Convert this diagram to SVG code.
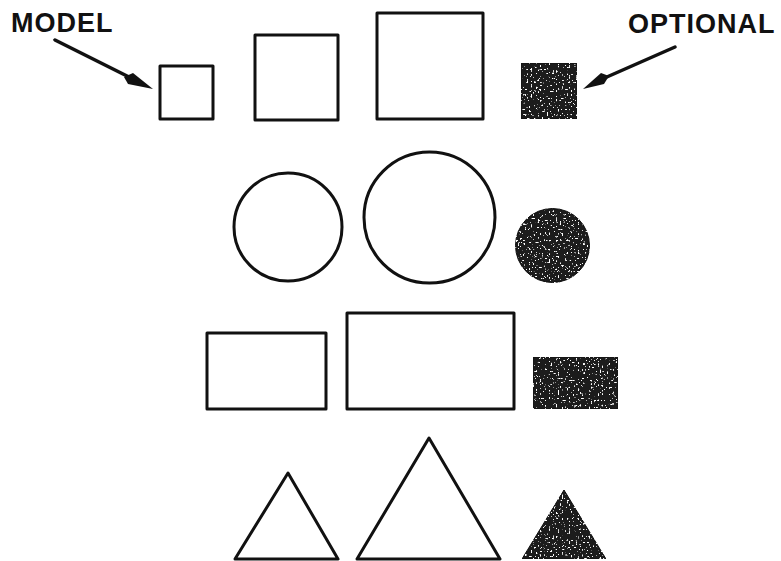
<svg xmlns="http://www.w3.org/2000/svg" width="781" height="561" viewBox="0 0 781 561">
<style>
.o{fill:#fff;stroke:#111;stroke-width:3;stroke-linejoin:round}
.f{fill:#1c1c1c;stroke:#111;stroke-width:1;filter:url(#speckle)}
.lbl{font-family:"Liberation Sans",Arial,sans-serif;font-weight:bold;font-size:27px;letter-spacing:1px;fill:#111}
.arr{stroke:#111;stroke-width:3.5;fill:none;stroke-linecap:round}
.head{fill:#111}
</style>
<defs>
<filter id="speckle" x="0" y="0" width="1" height="1">
<feTurbulence type="fractalNoise" baseFrequency="0.55" numOctaves="1" seed="4" result="n"/>
<feColorMatrix in="n" type="matrix" values="0 0 0 0 1 0 0 0 0 1 0 0 0 0 1 14 0 0 0 -8.8" result="specks"/>
<feComposite in="specks" in2="SourceGraphic" operator="atop"/>
</filter>
</defs>
<rect width="781" height="561" fill="#fff"/>
<text class="lbl" x="11" y="32">MODEL</text>
<text class="lbl" x="628" y="33">OPTIONAL</text>
<g id="connectors">
<line class="arr" x1="55" y1="40" x2="135" y2="80"/>
<polygon class="head" points="153,89 128,84 124,77 133,73"/>
<line class="arr" x1="675" y1="47" x2="600" y2="80"/>
<polygon class="head" points="583,89 601,73 609,76 604,84"/>
</g>
<g id="sq1"><rect class="o" x="160" y="66" width="53" height="53"/></g>
<g id="sq2"><rect class="o" x="255" y="35" width="83" height="85"/></g>
<g id="sq3"><rect class="o" x="377" y="13" width="106" height="106"/></g>
<g id="sq4"><rect class="f" x="521" y="63" width="56" height="56"/></g>
<g id="c1"><circle class="o" cx="288" cy="227" r="54"/></g>
<g id="c2"><circle class="o" cx="429.5" cy="217.5" r="65.5"/></g>
<g id="c3"><circle class="f" cx="552.5" cy="245.5" r="37"/></g>
<g id="r1"><rect class="o" x="207" y="333" width="119" height="76"/></g>
<g id="r2"><rect class="o" x="347" y="313" width="167" height="96"/></g>
<g id="r3"><rect class="f" x="533" y="357" width="85" height="52"/></g>
<g id="t1"><polygon class="o" points="288,473 338,559 235,559"/></g>
<g id="t2"><polygon class="o" points="429,438 500,559 357,559"/></g>
<g id="t3"><polygon class="f" points="564,490 606,559 522,559"/></g>
</svg>
